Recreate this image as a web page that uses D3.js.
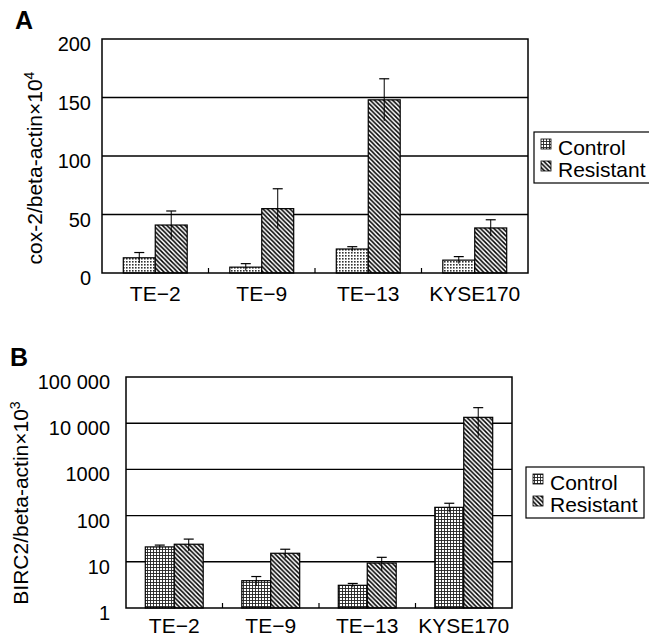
<!DOCTYPE html>
<html>
<head>
<meta charset="utf-8">
<script src="https://cdn.jsdelivr.net/npm/d3@7"></script>
<style>
  body { margin: 0; background: #fff; }
  svg { font-family: "Liberation Sans", Arial, sans-serif; }
</style>
</head>
<body>
<div class="chart"></div>
<script>

// data
const cellLines = ["TE\u22122", "TE\u22129", "TE\u221213", "KYSE170"];
const seriesNames = ["Control", "Resistant"];

// panel A: cox-2 / beta-actin x 10^4
const coxControl = [13, 5, 20.5, 11];
const coxControlErr = [4.5, 3, 2, 3];
const coxResistant = [41, 55, 148, 38.5];
const coxResistantErr = [12, 17, 18, 7];
const coxTicks = [0, 50, 100, 150, 200];

// panel B: BIRC2 / beta-actin x 10^3 (log)
const bircControl = [21, 3.9, 3.1, 151];
const bircControlErr = [2, 0.9, 0.3, 34];
const bircResistant = [24, 15.3, 9.4, 13400];
const bircResistantErr = [7, 3.4, 3.1, 8300];
const bircTicks = [1, 10, 100, 1000, 10000, 100000];
const bircTickLabels = ["1", "10", "100", "1000", "10 000", "100 000"];

const svg = d3.select(".chart").append("svg")
    .attr("width", 649)
    .attr("height", 639);

// patterns
let defs = svg.append("defs");

let dots = defs.append("pattern")
    .attr("id", "dots")
    .attr("patternUnits", "userSpaceOnUse")
    .attr("width", 3).attr("height", 3);
dots.append("rect").attr("width", 3).attr("height", 3).attr("fill", "#fff");
dots.append("rect").attr("width", 1.6).attr("height", 1.6).attr("fill", "#333");

let grid = defs.append("pattern")
    .attr("id", "grid")
    .attr("patternUnits", "userSpaceOnUse")
    .attr("width", 3).attr("height", 3);
grid.append("rect").attr("width", 3).attr("height", 3).attr("fill", "#fff");
grid.append("path").attr("d", "M0,0.5H3M0.5,0V3").attr("stroke", "#222").attr("stroke-width", 0.9);

let hatch = defs.append("pattern")
    .attr("id", "hatch")
    .attr("patternUnits", "userSpaceOnUse")
    .attr("width", 4.5).attr("height", 4.5);
hatch.append("rect").attr("width", 4.5).attr("height", 4.5).attr("fill", "#fff");
hatch.append("path")
    .attr("d", "M0,0L4.5,4.5M-1,3.5L1,5.5M3.5,-1L5.5,1")
    .attr("stroke", "#000").attr("stroke-width", 1.5);

function drawPanel(opt) {
    let g = svg.append("g");

    let x = d3.scaleBand()
        .domain(cellLines)
        .range([opt.left, opt.right]);

    // bar pair takes the middle 60% of each band
    let sub = d3.scaleBand()
        .domain(seriesNames)
        .range([x.bandwidth() * 0.2, x.bandwidth() * 0.8]);

    let y = opt.y;

    // gridlines
    g.selectAll(".grid")
        .data(opt.ticks.slice(1, -1))
        .join("line")
        .attr("x1", opt.left).attr("x2", opt.right)
        .attr("y1", d => y(d)).attr("y2", d => y(d))
        .attr("stroke", "#000").attr("stroke-width", 1.4);

    // tick labels
    g.selectAll(".tl")
        .data(opt.ticks)
        .join("text")
        .attr("x", opt.left - opt.labelGap)
        .attr("y", d => y(d) + 5)
        .attr("dy", "0.35em")
        .attr("text-anchor", "end")
        .attr("font-size", 20)
        .text((d, i) => opt.tickLabels[i]);

    // category ticks
    g.selectAll(".ct")
        .data(cellLines.slice(1))
        .join("line")
        .attr("x1", d => x(d)).attr("x2", d => x(d))
        .attr("y1", opt.bottom).attr("y2", opt.bottom - 5)
        .attr("stroke", "#000").attr("stroke-width", 1.2);

    // bars
    let rows = [];
    cellLines.forEach((c, i) => {
        rows.push({cat: c, s: "Control", v: opt.control[i], e: opt.controlErr[i]});
        rows.push({cat: c, s: "Resistant", v: opt.resistant[i], e: opt.resistantErr[i]});
    });

    g.selectAll(".bar")
        .data(rows)
        .join("rect")
        .attr("x", d => x(d.cat) + sub(d.s))
        .attr("width", sub.bandwidth())
        .attr("y", d => y(d.v))
        .attr("height", d => opt.bottom - y(d.v))
        .attr("fill", d => d.s === "Control" ? opt.controlFill : "url(#hatch)")
        .attr("stroke", "#000").attr("stroke-width", 1.2);

    // error bars: line through the bar, cap on top only
    let cx = d => x(d.cat) + sub(d.s) + sub.bandwidth() / 2;
    g.selectAll(".err")
        .data(rows)
        .join("line")
        .attr("x1", cx).attr("x2", cx)
        .attr("y1", d => y(d.v + d.e))
        .attr("y2", d => y(Math.max(d.v - d.e, opt.floor)))
        .attr("stroke", "#000").attr("stroke-width", 1);
    g.selectAll(".cap")
        .data(rows)
        .join("line")
        .attr("x1", d => cx(d) - 5).attr("x2", d => cx(d) + 5)
        .attr("y1", d => y(d.v + d.e)).attr("y2", d => y(d.v + d.e))
        .attr("stroke", "#000").attr("stroke-width", 1.2);

    // frame
    g.append("rect")
        .attr("x", opt.left).attr("y", opt.top)
        .attr("width", opt.right - opt.left)
        .attr("height", opt.bottom - opt.top)
        .attr("fill", "none")
        .attr("stroke", "#000").attr("stroke-width", 1.5);

    // category labels
    g.selectAll(".cl")
        .data(cellLines)
        .join("text")
        .attr("x", d => x(d) + x.bandwidth() / 2)
        .attr("y", opt.catY)
        .attr("text-anchor", "middle")
        .attr("font-size", 21)
        .text(d => d);

    // y title
    let t = g.append("text")
        .attr("transform", "translate(" + opt.titleX + "," + opt.titleY + ") rotate(-90)")
        .attr("text-anchor", "middle")
        .attr("font-size", 21);
    t.append("tspan").text(opt.title);
    t.append("tspan").attr("dy", "-0.55em").attr("font-size", 14).text(opt.sup);

    // panel letter
    g.append("text")
        .attr("x", opt.letterX).attr("y", opt.letterY)
        .attr("font-size", 25).attr("font-weight", "bold")
        .text(opt.letter);

    // legend
    let lg = g.append("g");
    lg.append("rect")
        .attr("x", opt.legX).attr("y", opt.legY)
        .attr("width", opt.legW).attr("height", 51)
        .attr("fill", "#fff").attr("stroke", "#000").attr("stroke-width", 1.2);
    seriesNames.forEach((s, i) => {
        lg.append("rect")
            .attr("x", opt.legX + 7).attr("y", opt.legY + 7 + i * 22)
            .attr("width", 10).attr("height", 10)
            .attr("fill", s === "Control" ? "url(#grid)" : "url(#hatch)")
            .attr("stroke", "#000").attr("stroke-width", 0.8);
        lg.append("text")
            .attr("x", opt.legX + 24).attr("y", opt.legY + 23 + i * 22)
            .attr("font-size", 21)
            .text(s);
    });
}

drawPanel({
    letter: "A", letterX: 15, letterY: 29,
    left: 102, right: 528, top: 39, bottom: 273,
    y: d3.scaleLinear().domain([0, 200]).range([273, 39]),
    ticks: coxTicks, tickLabels: coxTicks.map(String), labelGap: 11,
    control: coxControl, controlErr: coxControlErr,
    resistant: coxResistant, resistantErr: coxResistantErr,
    controlFill: "url(#dots)", floor: 0,
    catY: 301,
    title: "cox-2/beta-actin\u00d710", sup: "4", titleX: 42, titleY: 168,
    legX: 534, legY: 132, legW: 116
});

drawPanel({
    letter: "B", letterX: 10, letterY: 366,
    left: 126, right: 512, top: 377, bottom: 608,
    y: d3.scaleLog().domain([1, 100000]).range([608, 377]),
    ticks: bircTicks, tickLabels: bircTickLabels, labelGap: 16,
    control: bircControl, controlErr: bircControlErr,
    resistant: bircResistant, resistantErr: bircResistantErr,
    controlFill: "url(#grid)", floor: 1,
    catY: 633,
    title: "BIRC2/beta-actin\u00d710", sup: "3", titleX: 28, titleY: 503,
    legX: 526, legY: 467, legW: 118
});

</script>
</body>
</html>
